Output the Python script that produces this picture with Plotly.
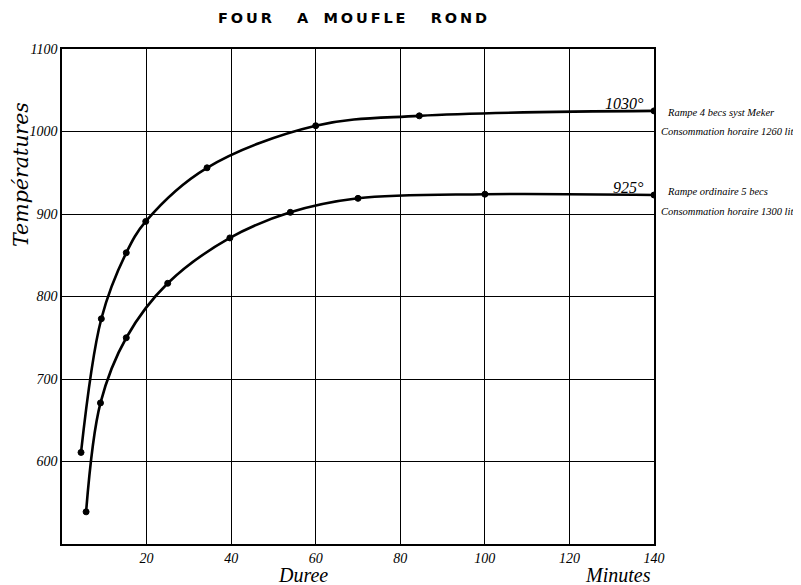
import plotly.graph_objects as go

# Data
meker_minutes = [4.5, 9.3, 15.2, 19.8, 34.3, 60, 84.5, 140]
meker_temps = [611, 773, 853, 891, 956, 1007, 1019, 1025]

ordinary_minutes = [5.7, 9.1, 15.2, 25, 39.7, 54, 70, 100, 140]
ordinary_temps = [539, 671, 750, 816, 871, 902, 919, 924, 923]

x_ticks = [20, 40, 60, 80, 100, 120, 140]
y_ticks = [600, 700, 800, 900, 1000, 1100]

title_text = "FOUR A MOUFLE ROND"
meker_label = ["1030°", "Rampe 4 becs syst Meker", "Consommation horaire 1260 lit"]
ordinary_label = ["925°", "Rampe ordinaire 5 becs", "Consommation horaire 1300 lit"]

SERIF = "Liberation Serif"

fig = go.Figure()
for xs, ys in [(meker_minutes, meker_temps), (ordinary_minutes, ordinary_temps)]:
    fig.add_trace(go.Scatter(
        x=xs, y=ys, mode="lines+markers",
        line=dict(color="black", width=2.6, shape="spline", smoothing=1.0),
        marker=dict(color="black", size=6, symbol="circle",
                    line=dict(color="black", width=1)),
        showlegend=False, hoverinfo="x+y",
    ))

# the page body has an 8px margin: the figure is offset by 8px
OFF = 8
W, H = 801 - OFF, 585 - OFF
PL, PR, PT, PB = 62, 654, 49, 544   # plot area in page pixels
L = PL - OFF
T = PT - OFF
pw, ph = PR - PL, PB - PT
R = W - L - pw
B = H - T - ph

def px_x(px):
    return (px - PL) / pw

def px_y(py):
    return (PB - py) / ph

def spaced(s):
    words = s.split(" ")
    seps = ["\u00a0" * 5, "\u00a0" * 3, "\u00a0" * 5]
    out = "\u2009".join(words[0])
    for i, w in enumerate(words[1:]):
        out += seps[i] + "\u2009".join(w)
    return out

ann = []
ann.append(dict(text=spaced(title_text), x=px_x(352), y=px_y(18), xref="paper", yref="paper",
                showarrow=False, xanchor="center", yanchor="middle",
                font=dict(family="DejaVu Sans", size=14.5, color="black", weight="bold")))
ann.append(dict(text="Températures", x=px_x(21), y=px_y(175), xref="paper", yref="paper",
                showarrow=False, textangle=-90, xanchor="center", yanchor="middle",
                font=dict(family="DejaVu Serif", size=20.5, color="black", style="italic")))
ann.append(dict(text="Duree", x=px_x(303), y=px_y(575), xref="paper", yref="paper",
                showarrow=False, xanchor="center", yanchor="middle",
                font=dict(family=SERIF, size=20, color="black", style="italic")))
ann.append(dict(text="Minutes", x=px_x(618), y=px_y(575), xref="paper", yref="paper",
                showarrow=False, xanchor="center", yanchor="middle",
                font=dict(family=SERIF, size=20, color="black", style="italic")))

# end labels
for lab, ydeg, y1, y2 in [(meker_label, 1034.5, 1023.6, 1000.6),
                          (ordinary_label, 932.7, 926.7, 903.6)]:
    ann.append(dict(text=lab[0], x=px_x(646), y=ydeg, xref="paper", yref="y",
                    showarrow=False, xanchor="right", yanchor="middle",
                    font=dict(family=SERIF, size=16, color="black", style="italic")))
    ann.append(dict(text=lab[1], x=px_x(665), y=y1, xref="paper", yref="y",
                    showarrow=False, xanchor="left", yanchor="middle",
                    font=dict(family=SERIF, size=10.5, color="black", style="italic")))
    ann.append(dict(text=lab[2], x=px_x(659), y=y2, xref="paper", yref="y",
                    showarrow=False, xanchor="left", yanchor="middle",
                    font=dict(family=SERIF, size=10.5, color="black", style="italic")))

fig.update_layout(
    width=W, height=H,
    margin=dict(l=L, r=R, t=T, b=B, pad=0),
    paper_bgcolor="white", plot_bgcolor="white",
    annotations=ann,
    xaxis=dict(range=[0, 140], tickvals=x_ticks, ticktext=[str(v) for v in x_ticks],
               showgrid=True, gridcolor="black", gridwidth=1.4,
               showline=True, linecolor="black", linewidth=1.6, mirror=True,
               ticks="", zeroline=False,
               tickfont=dict(family=SERIF, size=14, color="black", style="italic")),
    yaxis=dict(range=[500, 1100], tickvals=y_ticks, ticktext=[str(v) for v in y_ticks],
               showgrid=True, gridcolor="black", gridwidth=1.4,
               showline=True, linecolor="black", linewidth=1.6, mirror=True,
               ticks="", zeroline=False,
               tickfont=dict(family=SERIF, size=14, color="black", style="italic")),
)

fig.write_html("out.html")
